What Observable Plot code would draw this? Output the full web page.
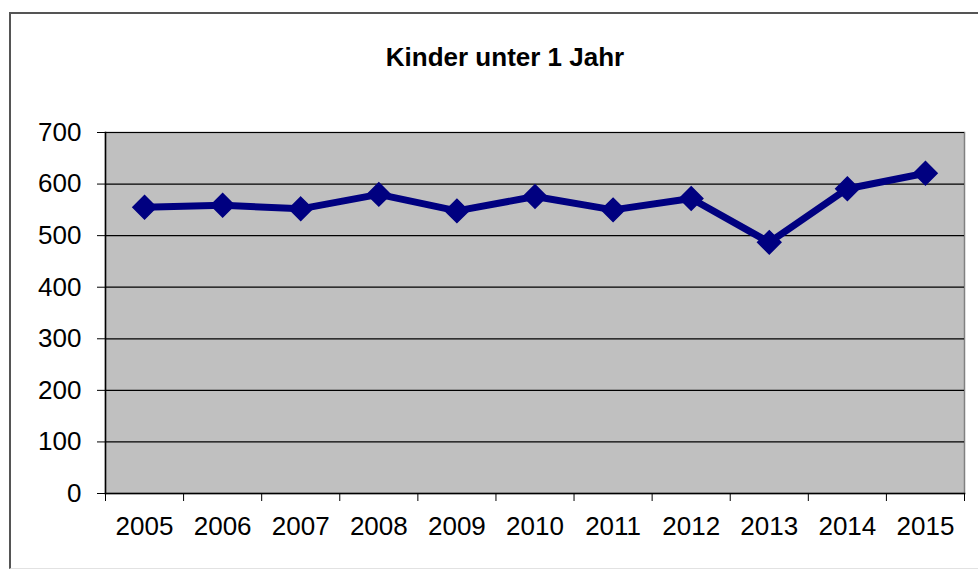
<!DOCTYPE html>
<html>
<head>
<meta charset="utf-8">
<script src="https://cdn.jsdelivr.net/npm/d3@7"></script>
<script src="https://cdn.jsdelivr.net/npm/@observablehq/plot@0.6"></script>
<style>
  html, body { margin: 0; padding: 0; background: #fff; }
  body { width: 978px; height: 577px; position: relative; overflow: hidden; font-family: "Liberation Sans", Arial, sans-serif; }
  #frame { position: absolute; left: 9px; top: 12px; width: 990px; height: 557px;
           border-left: 2px solid #555; border-top: 2px solid #555; border-bottom: 1px solid #e2e2e2; box-sizing: border-box; }
  #title { position: absolute; left: 505px; top: 44px; transform: translateX(-50%);
           font: bold 26px/26px "Liberation Sans", Arial, sans-serif; color: #000; white-space: nowrap; }
  #chart { position: absolute; left: 0; top: 100px; }
</style>
</head>
<body>
<div id="frame"></div>
<div id="title">Kinder unter 1 Jahr</div>
<div id="chart"></div>
<script>
const years = [2005, 2006, 2007, 2008, 2009, 2010, 2011, 2012, 2013, 2014, 2015];
const values = [555, 559, 552, 580, 548, 576, 550, 572, 487, 591, 621];
const yTicks = [0, 100, 200, 300, 400, 500, 600, 700];

const data = years.map((y, i) => ({year: y, value: values[i]}));
const boundaries = years.map(y => y - 0.5).concat([years[years.length - 1] + 0.5]);

const chart = Plot.plot({
  width: 978,
  height: 477,
  marginTop: 32,
  marginBottom: 84,
  marginLeft: 105,
  marginRight: 14,
  style: { fontFamily: "'Liberation Sans', Arial, sans-serif", fontSize: "26px", color: "#000", background: "transparent", overflow: "visible" },
  x: { type: "linear", domain: [years[0] - 0.5, years[years.length - 1] + 0.5] },
  y: { domain: [0, 700] },
  marks: [
    Plot.frame({ fill: "#c0c0c0", stroke: "#808080", strokeWidth: 1.5 }),
    Plot.gridY(yTicks.slice(1), { stroke: "#000", strokeOpacity: 1, strokeWidth: 1.2 }),
    Plot.axisY(yTicks, { tickSize: 8, tickPadding: 16, tickFormat: d => String(d), label: null, fontSize: 26, stroke: "#000" }),
    Plot.axisX(boundaries, { tickSize: 8, tickFormat: () => "", label: null, stroke: "#000" }),
    Plot.axisX(years, { tickSize: 0, tickPadding: 23, tickFormat: d => String(d), label: null, fontSize: 26 }),
    Plot.frame({ anchor: "left", stroke: "#000", strokeWidth: 1.5 }),
    Plot.frame({ anchor: "bottom", stroke: "#000", strokeWidth: 1.5 }),
    Plot.line(data, { x: "year", y: "value", stroke: "#000080", strokeWidth: 7, strokeLinejoin: "round" }),
    Plot.dot(data, { x: "year", y: "value", symbol: "diamond2", r: 10.5, fill: "#000080", stroke: "#000080", strokeWidth: 1.5 })
  ]
});
document.getElementById("chart").appendChild(chart);
</script>
</body>
</html>
